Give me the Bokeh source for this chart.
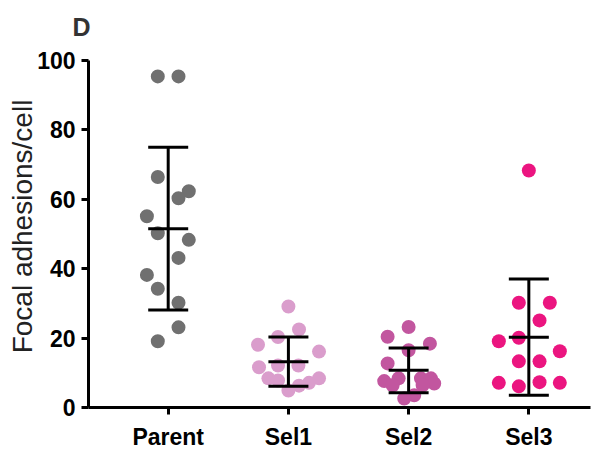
import numpy as np
from bokeh.plotting import figure
from bokeh.models import Range1d, FixedTicker
from bokeh.embed import file_html
from bokeh.resources import INLINE

# ---------------- data ----------------
categories = ["Parent", "Sel1", "Sel2", "Sel3"]
colors = ["#707070", "#DA9DCC", "#C2569F", "#EB1580"]

parent = [95.4, 95.4, 66.4, 62.3, 60.3, 55.1, 50.2, 48.3, 43.1, 38.2, 34.2, 30.2, 23.1, 19.1]
sel1 = [29.1, 22.5, 20.3, 18.1, 16.1, 11.6, 12.1, 12.1, 8.4, 7.8, 8.4, 7.1, 6.3, 4.9]
sel2 = [23.2, 20.4, 18.4, 16.5, 12.7, 8.4, 7.6, 6.4, 8.4, 8.4, 6.9, 6.4, 3.5, 2.6]
sel3 = [68.3, 30.2, 30.2, 25.1, 20.1, 19.1, 16.2, 13.3, 13.3, 7.1, 6.1, 7.3, 7.1]

y_ticks = [0, 20, 40, 60, 80, 100]

# ---------------- layout of the dot swarm (px from category centre) ----------------
parent_dx = [-10.4, 10.3, -10.4, 20.6, 10.3, -21.3, -10.4, 20.6, 10.3, -21.3, -10.4, 10.3, 10.3, -10.4]
sel1_dx = [0, 10.6, -10.4, -30.4, 30.6, -29.4, -10.4, 10.0, -20.0, -10.4, 30.6, 20.6, 10.6, 0]
sel2_dx = [0, -21, 21.3, 0, -21, -10, -24.4, -16, 12.3, 22.3, 25.6, 14, 5.6, -4.4]
sel3_dx = [0, -10, 21, 10.7, -10, -30, 31, -10, 10.7, -30, -10, 10.7, 31]

groups = [parent, sel1, sel2, sel3]
offsets = [parent_dx, sel1_dx, sel2_dx, sel3_dx]

# ---------------- geometry ----------------
W, H = 612, 452
B_LEFT, B_RIGHT, B_TOP, B_BOTTOM = 88, 22, 45, 45
frame_w = W - B_LEFT - B_RIGHT
x_start, x_end = 0.337, 4.513
y_end = 104.3
px_per_x = frame_w / (x_end - x_start)
cap_half = 20.0 / px_per_x

FONT = "Liberation Sans"

p = figure(width=W, height=H, output_backend="svg", toolbar_location=None,
           x_range=Range1d(x_start, x_end), y_range=Range1d(0, y_end),
           min_border_left=B_LEFT, min_border_right=B_RIGHT,
           min_border_top=B_TOP, min_border_bottom=B_BOTTOM)

p.background_fill_color = "white"
p.border_fill_color = "white"
p.outline_line_color = None
p.xgrid.visible = False
p.ygrid.visible = False

cat_pos = list(range(1, len(categories) + 1))

for xc, vals, dxs, col in zip(cat_pos, groups, offsets, colors):
    xs = [xc + d / px_per_x for d in dxs]
    p.scatter(xs, vals, size=14, fill_color=col, line_color=None)

for xc, vals in zip(cat_pos, groups):
    arr = np.asarray(vals, dtype=float)
    m = arr.mean()
    sd = arr.std(ddof=1)
    p.segment(x0=[xc], y0=[m - sd], x1=[xc], y1=[m + sd], line_color="black", line_width=3)
    p.segment(x0=[xc - cap_half] * 3, y0=[m - sd, m, m + sd],
              x1=[xc + cap_half] * 3, y1=[m - sd, m, m + sd],
              line_color="black", line_width=3)

# axes
for ax in (p.xaxis[0], p.yaxis[0]):
    ax.axis_line_width = 3
    ax.axis_line_color = "black"
    ax.major_tick_line_width = 3
    ax.major_tick_line_color = "black"
    ax.major_tick_out = 7
    ax.major_tick_in = 0
    ax.minor_tick_out = 0
    ax.minor_tick_in = 0
    ax.major_label_text_font = FONT
    ax.major_label_text_font_style = "bold"
    ax.major_label_text_font_size = "23px"
    ax.major_label_text_color = "black"

p.xaxis.ticker = FixedTicker(ticks=cat_pos)
p.xaxis.major_label_overrides = {k: v for k, v in zip(cat_pos, categories)}
p.xaxis.major_label_standoff = 9

p.yaxis.ticker = FixedTicker(ticks=y_ticks)
p.yaxis.bounds = (0, 100)
p.yaxis.major_label_standoff = 6
p.yaxis.axis_label = "Focal adhesions/cell"
p.yaxis.axis_label_text_font = FONT
p.yaxis.axis_label_text_font_style = "normal"
p.yaxis.axis_label_text_font_size = "28px"
p.yaxis.axis_label_text_color = "#222222"
p.yaxis.axis_label_standoff = -4

p.title.text = "D"
p.title.text_font = FONT
p.title.text_font_style = "bold"
p.title.text_font_size = "25px"
p.title.text_color = "#333333"
p.title.align = "left"
p.title.offset = -16
p.title.standoff = 10

open("out.html", "w").write(file_html(p, INLINE))
